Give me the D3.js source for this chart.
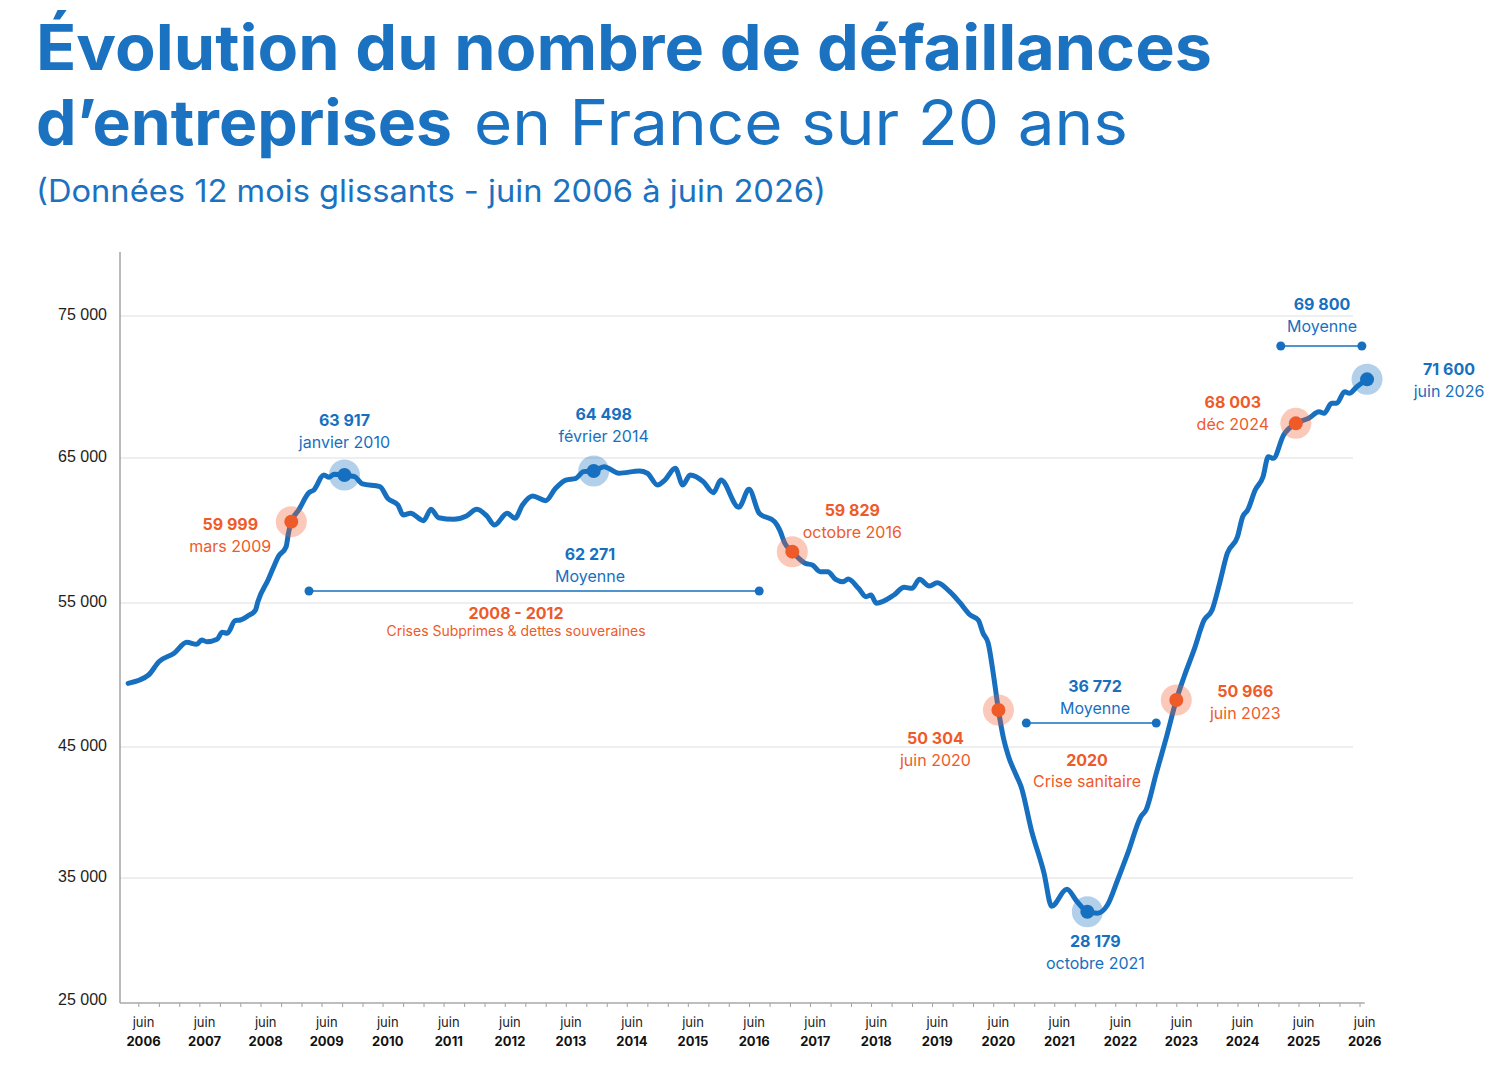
<!DOCTYPE html>
<html><head><meta charset="utf-8">
<script src="https://cdn.jsdelivr.net/npm/d3@7"></script>
<style>body{margin:0;background:#fff;} svg{display:block;}</style>
</head><body><svg id="chart" width="1492" height="1070"></svg>
<script>
// ---------------- DATA ----------------
const dates = ["2006-03-01","2006-07-01","2006-09-01","2006-12-01","2007-02-15","2007-04-15","2007-05-15","2007-06-15","2007-08-15","2007-09-15",
"2007-10-15","2007-12-01","2008-01-01","2008-02-15","2008-04-01","2008-04-15","2008-06-15","2008-07-15","2008-08-15","2008-10-01",
"2008-10-15","2008-11-01","2008-12-15","2009-02-15","2009-03-15","2009-05-15","2009-06-15","2009-07-15","2009-09-15","2009-11-15",
"2010-01-01","2010-04-15","2010-06-01","2010-08-01","2010-09-01","2010-10-15","2011-01-01","2011-02-15","2011-04-01","2011-07-01",
"2011-09-15","2011-11-15","2012-01-15","2012-03-01","2012-05-15","2012-07-01","2012-08-15","2012-10-15","2013-01-01","2013-03-01",
"2013-05-01","2013-07-01","2013-08-15","2013-10-15","2013-12-15","2014-03-15","2014-07-15","2014-09-01","2014-11-01","2014-12-15",
"2015-02-15","2015-04-01","2015-05-15","2015-08-01","2015-10-01","2015-11-15","2016-03-01","2016-05-01","2016-07-01","2016-10-01",
"2016-11-01","2016-12-01","2017-01-15","2017-04-01","2017-05-15","2017-07-01","2017-08-15","2017-10-01","2017-11-15","2017-12-15",
"2018-02-15","2018-04-01","2018-05-01","2018-06-01","2018-09-15","2018-11-15","2019-01-01","2019-02-15","2019-04-15","2019-06-01",
"2019-08-15","2019-10-15","2019-12-15","2020-02-01","2020-03-01","2020-04-01","2020-05-01","2020-06-01","2020-07-01","2020-08-01",
"2020-09-15","2020-10-15","2020-12-15","2021-03-01","2021-04-15","2021-07-15","2021-09-15","2021-11-15","2022-01-15",
"2022-03-15","2022-05-15","2022-07-15","2022-10-01","2022-11-01","2023-01-01","2023-03-01","2023-05-01","2023-06-15","2023-08-15",
"2023-10-15","2023-12-01","2024-01-15","2024-03-01","2024-05-01","2024-06-01","2024-07-01","2024-08-15","2024-10-01","2024-11-01",
"2024-12-01","2025-02-01","2025-04-15","2025-07-01","2025-09-01","2025-10-01","2025-11-15","2025-12-15","2026-02-01","2026-03-01",
"2026-04-15","2026-06-15"];

const values = [49420,50000,50920,51510,52270,52130,52430,52310,52480,52970,
52900,53770,53820,54100,54510,55090,56590,57390,58190,58880,
59810,60610,61410,62610,62790,63830,63670,63880,63830,63710,
63210,63020,62220,61760,61070,61190,60680,61460,60880,60770,
61000,61460,61000,60380,61190,60840,61760,62380,62060,62910,
63480,63600,64060,64100,64400,63950,64100,63950,63140,63480,
64290,63140,63830,63370,62610,63480,61600,62840,61190,60610,
60030,59120,58540,57740,57620,57160,57160,56630,56470,56650,
56010,55430,55550,54980,55550,56080,56010,56630,56170,56400,
55780,55020,54170,53820,52900,52200,50120,47570,45630,44260,
42860,41970,38660,35360,32700,34080,33070,32260,32130,
32800,34840,36890,39680,40190,42990,45600,48260,49830,51740,
53820,54510,56360,58430,59570,60950,61410,62790,63710,65090,
64980,66620,67440,67800,68260,68150,68850,68850,69670,69560,
70020,70540];

const yTicks = [25000,35000,45000,55000,65000,75000];
const yTickLabels = ["25 000","35 000","45 000","55 000","65 000","75 000"];
const xTickYears = [2006,2007,2008,2009,2010,2011,2012,2013,2014,2015,2016,2017,2018,2019,2020,2021,2022,2023,2024,2025,2026];
const xTickMonthLabel = "juin";

// highlighted points
const markerDates  = ["2008-11-01","2009-09-15","2013-10-15","2017-01-15","2020-06-01","2021-11-15","2023-05-01","2025-04-15","2026-06-15"];
const markerValues = [60610,63830,64100,58540,47570,32260,48260,67440,70540];
const markerValueLabels = ["59 999","63 917","64 498","59 829","50 304","28 179","50 966","68 003","71 600"];
const markerDateLabels  = ["mars 2009","janvier 2010","février 2014","octobre 2016","juin 2020","octobre 2021","juin 2023","déc 2024","juin 2026"];
const markerKinds = ["orange","blue","blue","orange","orange","blue","orange","orange","blue"];

// average brackets
const avgStarts = ["2009-02-15","2020-11-15","2025-01-15"];
const avgEnds   = ["2016-07-01","2023-01-01","2026-05-15"];
const avgValueLabels = ["62 271","36 772","69 800"];
const avgLabel = "Moyenne";

// crisis periods
const periodTitles = ["2008 - 2012","2020"];
const periodTexts  = ["Crises Subprimes & dettes souveraines","Crise sanitaire"];

// ---------------- LAYOUT ----------------
const BLUE = "#1670bf", ORANGE = "#ef5a29", TITLE = "#1a72c1";
const FONT = "Inter, 'Open Sans', sans-serif";
const plotLeft = 120, plotRight = 1353, plotTop = 252, axisY = 1003;

// label offsets relative to each marker (value-label baseline)
const markerLabelOffsets = [[-61,8],[0,-49],[10,-51],[60,-36],[-63,34],[8,35],[69,-3],[-63,-15],[82,-4]];
const avgLayout = [{y:591, lx:590, ly:560},{y:723, lx:1095, ly:692},{y:346, lx:1322, ly:310}];
const periodLayout = [{x:516, y:619, size:14},{x:1087, y:766, size:16}];

const parse = d3.timeParse("%Y-%m-%d");
const series = dates.map((d,i)=>({date:parse(d), value:values[i]}));

const svg = d3.select("#chart");

const x = d3.scaleTime().domain([new Date(2006,5,1), new Date(2026,5,1)]).range([143.5,1364.7]);
const y = d3.scaleLinear().domain(yTicks).range([1001,878,747,603,458,316]);

// ---------------- TITLE ----------------
svg.append("text").attr("x",36).attr("y",70).attr("fill",TITLE)
  .attr("font-family",FONT).attr("font-weight",700).attr("font-size",63)
  .attr("textLength",1176).attr("lengthAdjust","spacingAndGlyphs")
  .text("Évolution du nombre de défaillances");
svg.append("text").attr("x",36).attr("y",145).attr("fill",TITLE)
  .attr("font-family",FONT).attr("font-weight",700).attr("font-size",63)
  .attr("textLength",416).attr("lengthAdjust","spacingAndGlyphs")
  .text("d’entreprises");
svg.append("text").attr("x",474).attr("y",145).attr("fill",TITLE)
  .attr("font-family",FONT).attr("font-weight",400).attr("font-size",63)
  .attr("textLength",654).attr("lengthAdjust","spacingAndGlyphs")
  .text("en France sur 20 ans");
svg.append("text").attr("x",36).attr("y",202).attr("fill",TITLE)
  .attr("font-family",FONT).attr("font-weight",400).attr("font-size",31)
  .attr("textLength",790).attr("lengthAdjust","spacingAndGlyphs")
  .text("(Données 12 mois glissants - juin 2006 à juin 2026)");

// ---------------- GRID & AXES ----------------
svg.append("g").selectAll("line").data(yTicks.filter(v=>v>yTicks[0])).join("line")
  .attr("x1",plotLeft).attr("x2",plotRight)
  .attr("y1",d=>y(d)).attr("y2",d=>y(d))
  .attr("stroke","#dedede").attr("stroke-width",1);

const yAxis = d3.axisLeft(y).tickValues(yTicks).tickFormat((d,i)=>yTickLabels[i]).tickSize(0).tickPadding(13);
const gy = svg.append("g").attr("transform",`translate(${plotLeft},-2)`).call(yAxis);
gy.select(".domain").remove();
gy.selectAll("text").attr("font-family","'Liberation Sans', Arial, sans-serif").attr("font-size",16).attr("fill","#1e1e1e");

svg.append("line").attr("x1",plotLeft).attr("x2",plotLeft).attr("y1",plotTop).attr("y2",axisY)
  .attr("stroke","#8c8c8c").attr("stroke-width",1.2);

const tickDates = d3.timeMonth.every(4).range(new Date(2006,1,1), new Date(2026,6,1));
const xAxis = d3.axisBottom(x).tickValues(tickDates).tickFormat("").tickSize(4).tickSizeOuter(0);
const gx = svg.append("g").attr("transform",`translate(0,${axisY})`).call(xAxis);
gx.select(".domain").remove();
gx.selectAll(".tick line").attr("stroke","#a0a0a0");
svg.append("line").attr("x1",plotLeft).attr("x2",x(new Date(2026,5,1))).attr("y1",axisY).attr("y2",axisY)
  .attr("stroke","#a8a8a8").attr("stroke-width",1.5);

const xl = svg.append("g").selectAll("g").data(xTickYears).join("g")
  .attr("transform",d=>`translate(${x(new Date(d,5,1))},0)`);
xl.append("text").attr("y",1027).attr("text-anchor","middle").attr("font-family",FONT)
  .attr("font-size",13).attr("fill","#222").text(xTickMonthLabel);
xl.append("text").attr("y",1046).attr("text-anchor","middle").attr("font-family",FONT)
  .attr("font-size",13).attr("font-weight",700).attr("fill","#111").text(d=>d);

// ---------------- LINE ----------------
const line = d3.line().x(d=>x(d.date)).y(d=>y(d.value)).curve(d3.curveMonotoneX);
svg.append("path").datum(series).attr("d",line).attr("fill","none")
  .attr("stroke",BLUE).attr("stroke-width",5).attr("stroke-linejoin","round").attr("stroke-linecap","round");

// ---------------- AVERAGE BRACKETS ----------------
avgStarts.forEach((s,i)=>{
  const L = avgLayout[i];
  const x1 = x(parse(s)), x2 = x(parse(avgEnds[i]));
  const g = svg.append("g");
  g.append("line").attr("x1",x1).attr("x2",x2).attr("y1",L.y).attr("y2",L.y).attr("stroke",BLUE).attr("stroke-width",1.3);
  g.selectAll("circle").data([x1,x2]).join("circle").attr("cx",d=>d).attr("cy",L.y).attr("r",4.5).attr("fill",BLUE);
  g.append("text").attr("x",L.lx).attr("y",L.ly).attr("text-anchor","middle").attr("font-family",FONT)
    .attr("font-size",16).attr("font-weight",700).attr("fill",BLUE).text(avgValueLabels[i]);
  g.append("text").attr("x",L.lx).attr("y",L.ly+22).attr("text-anchor","middle").attr("font-family",FONT)
    .attr("font-size",16).attr("fill",BLUE).text(avgLabel);
});

// ---------------- PERIOD LABELS ----------------
periodTitles.forEach((t,i)=>{
  const P = periodLayout[i];
  svg.append("text").attr("x",P.x).attr("y",P.y).attr("text-anchor","middle").attr("font-family",FONT)
    .attr("font-size",16).attr("font-weight",700).attr("fill",ORANGE).text(t);
  svg.append("text").attr("x",P.x).attr("y",P.y+(P.size<16?17:21)).attr("text-anchor","middle").attr("font-family",FONT)
    .attr("font-size",P.size).attr("fill",ORANGE).text(periodTexts[i]);
});

// ---------------- MARKERS ----------------
markerDates.forEach((d,i)=>{
  const cx = x(parse(d)), cy = y(markerValues[i]);
  const col = markerKinds[i]==="orange" ? ORANGE : BLUE;
  svg.append("circle").attr("cx",cx).attr("cy",cy).attr("r",15.5).attr("fill",col).attr("fill-opacity",0.33);
  svg.append("circle").attr("cx",cx).attr("cy",cy).attr("r",7).attr("fill",col);
  const [dx,dy] = markerLabelOffsets[i];
  svg.append("text").attr("x",cx+dx).attr("y",cy+dy).attr("text-anchor","middle").attr("font-family",FONT)
    .attr("font-size",16).attr("font-weight",700).attr("fill",col).text(markerValueLabels[i]);
  svg.append("text").attr("x",cx+dx).attr("y",cy+dy+22).attr("text-anchor","middle").attr("font-family",FONT)
    .attr("font-size",16).attr("fill",col).text(markerDateLabels[i]);
});
</script></body></html>
